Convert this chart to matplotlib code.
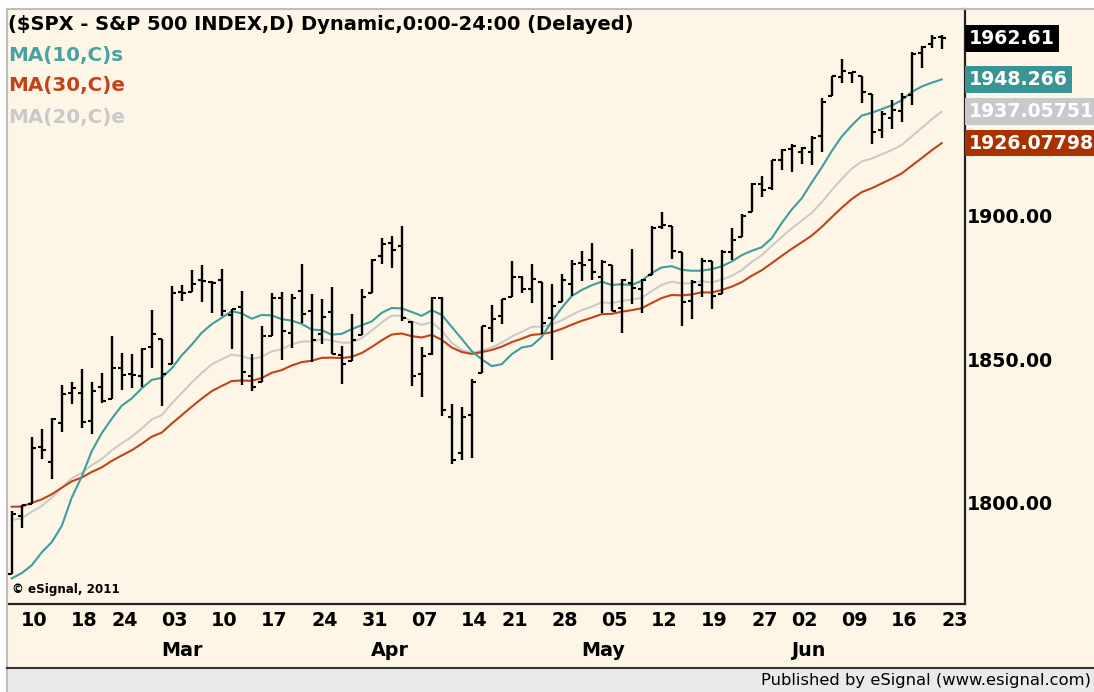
"""Daily S&P 500 OHLC bars with moving averages, eSignal style."""

import matplotlib

matplotlib.use("Agg")
import matplotlib.pyplot as plt
import matplotlib.transforms as mtransforms
import numpy as np
import pandas as pd
from matplotlib.patches import Rectangle
from matplotlib.lines import Line2D

W, H = 1094, 692
BG = "#FDF5E6"
BAND = "#EAEAEA"
TEAL = "#3E9E9E"
RUST = "#C2431A"
SILVER = "#C9C9C9"
FONT = ["DejaVu Sans"]

holidays = ["2014-02-17", "2014-04-18", "2014-05-26"]
dates = pd.bdate_range("2014-02-07", "2014-06-23", freq="C", holidays=holidays)

opens = [
    1776.01, 1796.20, 1800.45, 1820.12, 1814.82, 1828.46, 1839.03, 1838.90, 1829.24, 1841.07,
    1836.78, 1847.66, 1845.79, 1844.90, 1855.12, 1857.68, 1849.23, 1874.05, 1874.18, 1878.52,
    1877.86, 1878.26, 1866.15, 1869.06, 1845.07, 1842.81, 1858.92, 1872.25, 1860.09, 1874.53,
    1867.67, 1859.48, 1867.09, 1852.11, 1850.07, 1859.16, 1873.96, 1886.61, 1891.43, 1890.25,
    1863.92, 1845.48, 1852.64, 1872.28, 1830.65, 1818.18, 1831.45, 1846.01, 1861.73, 1865.79,
    1872.57, 1879.32, 1875.24, 1877.72, 1865.00, 1870.78, 1877.10, 1884.39, 1885.30, 1879.45,
    1883.69, 1868.53, 1877.39, 1875.27, 1880.03, 1896.75, 1897.13, 1888.16, 1871.19, 1876.66,
    1884.88, 1873.34, 1888.19, 1893.32, 1902.01, 1911.77, 1910.60, 1920.33, 1923.87, 1923.07,
    1923.06, 1928.52, 1942.41, 1948.97, 1950.34, 1949.37, 1943.35, 1930.80, 1934.84, 1937.15,
    1942.73, 1957.50, 1960.45, 1962.92,
]
highs = [
    1798.03, 1799.94, 1823.54, 1826.55, 1830.25, 1841.65, 1842.87, 1847.50, 1842.79, 1846.13,
    1858.71, 1852.91, 1852.65, 1854.53, 1867.92, 1857.68, 1876.23, 1876.53, 1881.94, 1883.57,
    1877.87, 1882.35, 1868.38, 1874.40, 1852.44, 1862.30, 1873.76, 1874.14, 1873.49, 1883.97,
    1873.34, 1871.87, 1875.92, 1855.55, 1866.63, 1875.18, 1885.84, 1893.17, 1893.80, 1897.28,
    1864.04, 1854.95, 1872.43, 1872.53, 1835.07, 1834.19, 1844.02, 1862.31, 1869.63, 1871.89,
    1884.89, 1879.75, 1884.06, 1877.72, 1877.01, 1880.60, 1885.20, 1888.59, 1891.33, 1885.51,
    1883.69, 1878.83, 1889.07, 1878.57, 1897.13, 1902.17, 1897.13, 1888.16, 1878.28, 1886.00,
    1884.88, 1888.80, 1896.33, 1901.26, 1912.28, 1914.46, 1920.03, 1924.03, 1925.88, 1924.67,
    1928.63, 1941.74, 1949.44, 1955.55, 1950.86, 1949.37, 1943.35, 1937.30, 1941.15, 1943.69,
    1957.74, 1959.87, 1963.91, 1963.74,
]
lows = [
    1776.01, 1791.83, 1800.41, 1815.97, 1809.22, 1825.59, 1835.01, 1826.99, 1824.58, 1835.60,
    1836.78, 1840.19, 1840.66, 1841.13, 1847.67, 1834.44, 1849.23, 1871.11, 1874.18, 1870.56,
    1867.04, 1866.00, 1854.38, 1841.86, 1839.57, 1842.81, 1858.92, 1850.35, 1854.63, 1863.46,
    1849.69, 1855.96, 1852.56, 1842.11, 1850.07, 1859.16, 1873.96, 1883.79, 1882.65, 1864.00,
    1841.48, 1837.49, 1852.38, 1830.87, 1814.36, 1815.80, 1816.29, 1846.01, 1856.72, 1863.18,
    1872.57, 1873.91, 1870.24, 1859.70, 1850.61, 1870.78, 1872.69, 1878.04, 1878.50, 1866.77,
    1867.72, 1859.79, 1870.05, 1867.02, 1880.03, 1896.06, 1885.77, 1862.36, 1864.82, 1872.42,
    1868.14, 1873.34, 1885.39, 1893.32, 1902.01, 1907.30, 1909.82, 1916.64, 1915.98, 1918.79,
    1918.60, 1922.93, 1942.41, 1947.16, 1946.87, 1940.08, 1925.78, 1927.69, 1930.91, 1933.55,
    1939.29, 1952.26, 1959.17, 1958.89,
]
closes = [
    1797.02, 1799.84, 1819.75, 1819.26, 1829.83, 1838.63, 1840.76, 1828.75, 1839.78, 1836.25,
    1847.61, 1845.12, 1845.16, 1854.29, 1859.45, 1845.73, 1873.91, 1873.81, 1877.03, 1878.04,
    1877.17, 1867.63, 1868.20, 1846.34, 1841.13, 1858.83, 1872.25, 1860.77, 1872.01, 1866.52,
    1857.44, 1865.62, 1852.56, 1849.04, 1857.62, 1872.34, 1885.52, 1890.90, 1888.77, 1865.09,
    1845.04, 1851.96, 1872.18, 1833.08, 1815.69, 1830.61, 1842.98, 1862.31, 1864.85, 1871.89,
    1879.55, 1875.39, 1878.61, 1863.40, 1869.43, 1878.33, 1883.95, 1883.68, 1881.14, 1884.66,
    1867.72, 1878.21, 1875.63, 1878.48, 1896.65, 1897.45, 1888.53, 1870.85, 1877.86, 1885.08,
    1872.83, 1888.03, 1892.49, 1900.53, 1911.91, 1909.78, 1920.03, 1923.57, 1924.97, 1924.24,
    1927.88, 1940.46, 1949.44, 1951.27, 1950.79, 1943.89, 1930.11, 1936.16, 1937.78, 1941.99,
    1956.98, 1959.48, 1962.87, 1962.61,
]
# closes of the nine sessions before the first bar, needed by the 10-day average
prior_closes = [1781.56, 1792.50, 1774.20, 1794.19, 1782.59, 1741.89, 1755.20, 1751.64, 1773.43]
# exponential averages as they stand on the first bar
ema20_start = 1794.8
ema30_start = 1799.4

price_ticks = [1800, 1850, 1900]
last_labels = [
    ("1962.61", 1962.61, "#000000"),
    ("1948.266", 1948.266, "#3A9494"),
    ("1937.05751", 1937.05751, SILVER),
    ("1926.07798", 1926.07798, "#A93300"),
]


def px(x, y):
    return x / W, 1 - y / H


def _sma(values, n):
    s = pd.Series(values, dtype=float)
    return s.rolling(n).mean().to_numpy()


def _ema(values, n, start):
    alpha = 2.0 / (n + 1)
    out = [start]
    for v in values[1:]:
        out.append(out[-1] + alpha * (v - out[-1]))
    return np.array(out)


def main():
    plt.rcParams.update({"font.family": FONT, "font.weight": "bold"})
    fig = plt.figure(figsize=(W / 100, H / 100), dpi=100, facecolor="white")

    # frame, cream panel and footer band
    x0, y0 = px(7, 668)
    x1, y1 = px(W, 9)
    fig.add_artist(Rectangle((x0, y0), x1 - x0, y1 - y0, transform=fig.transFigure,
                             facecolor=BG, edgecolor="none", zorder=0))
    bx, by = px(7, H)
    fig.add_artist(Rectangle((bx, by), 1 - bx, y0 - by, transform=fig.transFigure,
                             facecolor=BAND, edgecolor="none", zorder=0))
    fig.add_artist(Line2D([x0, 1], [y1, y1], transform=fig.transFigure, color="#BDBDBD", lw=1.5))
    fig.add_artist(Line2D([x0, x0], [0, y1], transform=fig.transFigure, color="#BDBDBD", lw=1.5))
    fig.add_artist(Line2D([x0, 1], [y0, y0], transform=fig.transFigure, color="#333333", lw=1.5))

    ax = fig.add_axes([8 / W, (H - 604) / H, 957 / W, 595 / H])
    ax.set_facecolor(BG)
    ax.set_xlim(-0.37, 95.33)
    ax.set_ylim(1765.5, 1972.8)
    ax.set_xticks([])
    ax.set_yticks([])
    for side in ("left", "top"):
        ax.spines[side].set_visible(False)
    for side in ("bottom", "right"):
        ax.spines[side].set_color("#222222")
        ax.spines[side].set_linewidth(1.6)

    x = np.arange(len(dates))
    ma10 = _sma(prior_closes + closes, 10)[len(prior_closes):]
    ema30 = _ema(closes, 30, ema30_start)
    ema20 = _ema(closes, 20, ema20_start)

    ax.plot(x, ema20, color=SILVER, lw=1.4, zorder=2)
    ax.plot(x, ema30, color=RUST, lw=1.5, zorder=2)
    ax.plot(x, ma10, color=TEAL, lw=1.5, zorder=2)

    ax.vlines(x, lows, highs, color="black", lw=1.7, zorder=3)
    ax.hlines(opens, x - 0.38, x, color="black", lw=1.5, zorder=3)
    ax.hlines(closes, x, x + 0.38, color="black", lw=1.5, zorder=3)

    # right-hand price scale and last values
    ytrans = ax.get_yaxis_transform()
    lx = (967 - 8) / 957
    for p in price_ticks:
        ax.text(lx, p, f"{p:.2f}", transform=ytrans, ha="left", va="center",
                fontsize=13.7, color="black", clip_on=False)
    for text, value, color in last_labels:
        ax.text(lx + 0.002, value, text, transform=ytrans, ha="left", va="center",
                fontsize=13.6, color="white", clip_on=False,
                bbox={"facecolor": color, "edgecolor": "none", "boxstyle": "square,pad=0.2"})

    # date axis: first session of each week and of each month
    xtrans = mtransforms.blended_transform_factory(ax.transData, fig.transFigure)
    for i in range(1, len(dates)):
        if dates[i].weekday() < dates[i - 1].weekday():
            fig.text(i - 0.05, 1 - 621 / H, dates[i].strftime("%d"), transform=xtrans,
                     ha="left", va="center", fontsize=13.8)
        if dates[i].month != dates[i - 1].month:
            fig.text(i - 0.05, 1 - 651 / H, dates[i].strftime("%b"), transform=xtrans,
                     ha="left", va="center", fontsize=13.8)

    fig.text(*px(8, 25), "($SPX - S&P 500 INDEX,D) Dynamic,0:00-24:00 (Delayed)",
             ha="left", va="center", fontsize=14.05, color="black")
    fig.text(*px(8, 55), "MA(10,C)s", ha="left", va="center", fontsize=14.3, color="#45A3A3")
    fig.text(*px(8, 86), "MA(30,C)e", ha="left", va="center", fontsize=14.3, color=RUST)
    fig.text(*px(8, 117), "MA(20,C)e", ha="left", va="center", fontsize=14.3, color=SILVER)
    fig.text(*px(12, 590), "\u00a9 eSignal, 2011", ha="left", va="center", fontsize=8.6)
    fig.text(*px(1091, 680), "Published by eSignal (www.esignal.com)", ha="right", va="center",
             fontsize=11.8, fontweight="normal")

    fig.savefig("out.png", dpi=100, facecolor="white")
    plt.close(fig)


if __name__ == "__main__":
    main()
